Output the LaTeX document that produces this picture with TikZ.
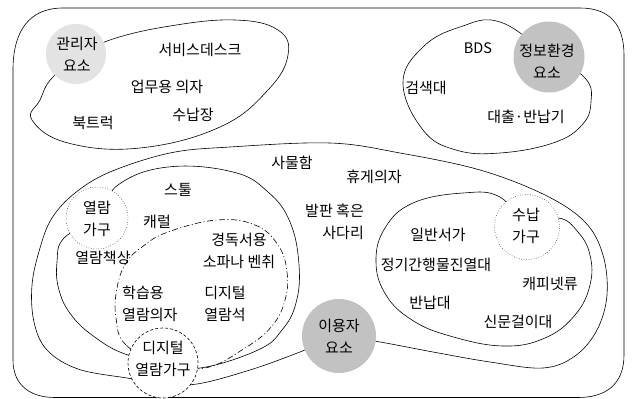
\documentclass[tikz,border=0pt]{standalone}
\usepackage{fontspec}
\newfontfamily\krfont{Noto Sans CJK KR}
\begin{document}
\begin{tikzpicture}[x=1pt,y=-1pt,
  ln/.style={draw=black, line width=0.6pt},
  lbl/.style={font=\krfont\fontsize{15}{22}\selectfont, inner sep=0pt, align=center},
  grayc/.style={circle, fill=black!24, draw=none, inner sep=0pt, minimum size=#1},
  lightc/.style={circle, fill=black!11, draw=none, inner sep=0pt, minimum size=#1},
  dotc/.style={circle, fill=white, draw=black, line width=0.5pt, dotted, inner sep=0pt, minimum size=#1},
  dashc/.style={circle, fill=white, draw=black, line width=0.6pt, dash pattern=on 3pt off 2pt, inner sep=0pt, minimum size=#1},
  dashdot/.style={draw=black, line width=0.6pt, dash pattern=on 6pt off 2.5pt on 1pt off 2.5pt}
]
\useasboundingbox (0,0) rectangle (633,399);

% outer frame
\draw[ln] (63,8) -- (580,8) .. controls (610,8) and (624,25) .. (624,55)
  -- (624,355) .. controls (624,385) and (605,397.5) .. (578,397.5)
  -- (55,397.5) .. controls (30,397.5) and (13,385) .. (13,360)
  -- (13,70) .. controls (13,30) and (30,8) .. (63,8) -- cycle;

% admin blob
\draw[ln] plot[smooth cycle, tension=0.7] coordinates {
  (40,100) (52,78) (80,57) (110,40) (170,26) (235,20) (278,30) (288,55)
  (268,90) (220,127) (140,148) (68,143) (32,120)};

% info blob
\draw[ln] plot[smooth cycle, tension=0.7] coordinates {
  (403,83) (423,47) (460,27) (500,22) (549,55) (585,78) (591,102)
  (582,125) (553,143) (500,153) (456,150) (423,130)};

% user blob
\draw[ln] plot[smooth cycle, tension=0.6] coordinates {
  (339,336) (380,342) (433,352) (490,362) (543,368) (575,356) (597,330)
  (607,295) (603,255) (585,222) (545,195) (480,170) (400,153) (330,143)
  (230,147) (170,153) (110,172) (75,193) (52,218) (40,248) (32,285)
  (34,322) (47,350) (78,369) (127,378) (163,383) (197,384) (250,370) (300,352)};

% storage ellipse
\draw[ln] plot[smooth cycle, tension=0.7] coordinates {
  (527,227) (500,197) (463,193) (413,203) (385,228) (376,262) (386,295)
  (412,320) (450,336) (503,346) (545,338) (575,315) (590,285) (590,255)
  (578,232) (558,218)};

% reading ellipse
\draw[ln] plot[smooth cycle, tension=0.7] coordinates {
  (97,218) (118,185) (168,167) (233,172) (268,192) (290,222) (299,265)
  (296,303) (282,330) (258,350) (200,368) (163,363) (125,354) (96,338)
  (72,316) (59,290) (57,262) (64,238)};

% digital dash-dot region
\draw[dashdot] plot[smooth cycle, tension=0.7] coordinates {
  (163,363) (126,345) (116,318) (117,288) (126,263) (142,247) (168,232)
  (217,220) (255,225) (278,245) (287,272) (285,300) (272,326) (245,348)
  (205,368)};

% circles
\node[lightc=60pt] (admc) at (76,54) {};
\node[grayc=71pt] (infc) at (549,57) {};
\node[grayc=74pt] (usrc) at (339,336) {};
\node[dotc=62pt] (readc) at (97,218) {};
\node[dotc=65pt] (storc) at (527,227) {};
\node[dashc=70pt] (digc) at (163,363) {};

% circle labels
\node[lbl] (adml) at (77,54) {관리자\\요소};
\node[lbl] (infl) at (547,61) {정보환경\\요소};
\node[lbl] (usrl) at (339,336) {이용자\\요소};
\node[lbl] (readl) at (97,219) {열람\\가구};
\node[lbl] (storl) at (526,226) {수납\\가구};
\node[lbl] (digl) at (163,359) {디지털\\열람가구};

% admin texts
\node[lbl] (t1) at (200,50) {서비스데스크};
\node[lbl] (t2) at (167,87) {업무용 의자};
\node[lbl] (t3) at (93,123) {북트럭};
\node[lbl] (t4) at (193,115) {수납장};

% info texts
\node[lbl, font=\krfont\fontsize{14.5}{20}\selectfont] (t5) at (478,48) {BDS};
\node[lbl] (t6) at (426,88) {검색대};
\node[lbl] (t7) at (526,117) {대출·반납기};

% user texts
\node[lbl] (t8) at (292,163) {사물함};
\node[lbl] (t9) at (374,177) {휴게의자};
\node[lbl, align=right, anchor=east] (t10) at (364,222) {발판 혹은\\사다리};

% reading texts
\node[lbl] (t11) at (178,190) {스툴};
\node[lbl] (t12) at (157,222) {캐럴};
\node[lbl] (t13) at (103,258) {열람책상};
\node[lbl] (t14) at (239,251) {경독서용\\소파나 벤취};
\node[lbl, align=left, anchor=west] (t15) at (122,304) {학습용\\열람의자};
\node[lbl] (t16) at (225,304) {디지털\\열람석};

% storage texts
\node[lbl] (t17) at (438,235) {일반서가};
\node[lbl] (t18) at (436,265) {정기간행물진열대};
\node[lbl] (t19) at (550,284) {캐피넷류};
\node[lbl] (t20) at (430,303) {반납대};
\node[lbl] (t21) at (518,322) {신문걸이대};
\end{tikzpicture}
\end{document}
